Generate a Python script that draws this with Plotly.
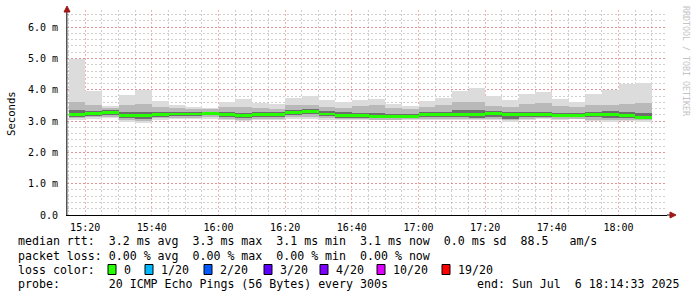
import plotly.graph_objects as go

# ---------------- data ----------------
DAY = "2025-07-06"
bin_start = ["15:15", "15:20", "15:25", "15:30", "15:35", "15:40", "15:45", "15:50", "15:55",
             "16:00", "16:05", "16:10", "16:15", "16:20", "16:25", "16:30", "16:35", "16:40",
             "16:45", "16:50", "16:55", "17:00", "17:05", "17:10", "17:15", "17:20", "17:25",
             "17:30", "17:35", "17:40", "17:45", "17:50", "17:55", "18:00", "18:05"]

# round trip times in ms (smoke percentiles per 5-minute bin)
rtt_max = [4.98, 3.95, 3.49, 3.84, 4.00, 3.65, 3.52, 3.45, 3.41, 3.61, 3.70, 3.59, 3.55, 3.73,
           3.81, 3.68, 3.60, 3.67, 3.70, 3.55, 3.48, 3.63, 3.73, 3.97, 4.05, 3.80, 3.67, 3.87,
           3.93, 3.71, 3.62, 3.87, 4.00, 4.17, 4.21]
rtt_p80 = [3.60, 3.50, 3.42, 3.52, 3.56, 3.45, 3.42, 3.40, 3.38, 3.44, 3.45, 3.42, 3.40, 3.50,
           3.52, 3.46, 3.42, 3.48, 3.50, 3.42, 3.40, 3.45, 3.52, 3.60, 3.62, 3.48, 3.45, 3.55,
           3.58, 3.48, 3.44, 3.50, 3.52, 3.55, 3.58]
rtt_p60 = [3.34, 3.33, 3.34, 3.30, 3.30, 3.30, 3.30, 3.29, 3.28, 3.28, 3.26, 3.28, 3.28, 3.36,
           3.40, 3.31, 3.28, 3.26, 3.27, 3.24, 3.22, 3.28, 3.30, 3.34, 3.35, 3.33, 3.28, 3.30,
           3.30, 3.27, 3.25, 3.30, 3.32, 3.30, 3.25]
rtt_median = [3.21, 3.24, 3.27, 3.19, 3.17, 3.22, 3.23, 3.23, 3.25, 3.20, 3.17, 3.20, 3.20, 3.27,
              3.31, 3.23, 3.19, 3.17, 3.15, 3.15, 3.15, 3.20, 3.20, 3.20, 3.20, 3.24, 3.22, 3.21,
              3.21, 3.18, 3.18, 3.20, 3.20, 3.17, 3.12]
rtt_p40 = [3.14, 3.17, 3.20, 3.10, 3.08, 3.14, 3.15, 3.16, 3.18, 3.12, 3.10, 3.13, 3.13, 3.19,
           3.22, 3.15, 3.11, 3.10, 3.09, 3.09, 3.10, 3.13, 3.14, 3.12, 3.11, 3.14, 3.08, 3.14,
           3.14, 3.12, 3.13, 3.12, 3.10, 3.10, 3.07]
rtt_p20 = [3.09, 3.12, 3.14, 3.02, 3.00, 3.09, 3.10, 3.10, 3.12, 3.06, 3.05, 3.08, 3.08, 3.13,
           3.14, 3.10, 3.06, 3.06, 3.05, 3.05, 3.06, 3.08, 3.08, 3.07, 3.06, 3.08, 3.02, 3.08,
           3.09, 3.08, 3.08, 3.05, 3.04, 3.04, 3.02]
rtt_min = [3.05, 3.08, 3.10, 2.96, 2.94, 3.05, 3.06, 3.06, 3.08, 3.02, 3.01, 3.04, 3.04, 3.07,
           3.06, 3.05, 3.03, 3.03, 3.02, 3.03, 3.04, 3.04, 3.04, 3.03, 3.02, 3.04, 2.98, 3.05,
           3.06, 3.05, 3.06, 2.99, 2.98, 2.99, 2.98]

y_tickvals = [0, 1, 2, 3, 4, 5, 6]
y_ticktext = ["0.0", "1.0 m", "2.0 m", "3.0 m", "4.0 m", "5.0 m", "6.0 m"]

legend_rtt = "median rtt:  3.2 ms avg  3.3 ms max  3.1 ms min  3.1 ms now  0.0 ms sd  88.5   am/s"
legend_loss = "packet loss: 0.00 % avg  0.00 % max  0.00 % min  0.00 % now"
loss_labels = ["0", "1/20", "2/20", "3/20", "4/20", "10/20", "19/20"]
loss_colors = ["#26ff00", "#00b8ff", "#0059ff", "#5e00ff", "#7e00ff", "#dd00ff", "#ff0000"]
legend_probe = "probe:       20 ICMP Echo Pings (56 Bytes) every 300s"
legend_end = "end: Sun Jul  6 18:14:33 2025"
watermark = "RRDTOOL / TOBI OETIKER"

# ---------------- layout geometry ----------------
W, H = 697, 297
L, R, T, B = 67, 30, 10, 82
PW, PH = W - L - R, H - T - B
MONO = "DejaVu Sans Mono"


def px(xp):
    return (xp - L) / PW


def py(yp):
    return (H - B - yp) / PH


def nb(s):
    return s.replace(" ", "\u00a0")


x = [f"{DAY} {t}:00" for t in bin_start]
fig = go.Figure()


def band(lo, hi, color):
    fig.add_trace(go.Bar(
        x=x, base=lo, y=[h - l for l, h in zip(lo, hi)],
        width=300000, offset=0,
        marker=dict(color=color, line=dict(width=0)),
        hoverinfo="skip", showlegend=False))


band(rtt_min, rtt_max, "#dcdcdc")
band(rtt_p20, rtt_p80, "#b9b9b9")
band(rtt_p40, rtt_p60, "#6e6e6e")
band([m - 0.045 for m in rtt_median], [m + 0.045 for m in rtt_median], "#26ff00")

grid_major = "rgba(240,80,80,0.45)"
grid_minor = "rgba(170,170,170,0.55)"
dash = "2px,2px"

fig.update_layout(
    width=W, height=H,
    margin=dict(l=L, r=R, t=T, b=B, pad=0),
    paper_bgcolor="white", plot_bgcolor="white",
    barmode="overlay", bargap=0, showlegend=False,
    xaxis=dict(
        type="date",
        range=[f"{DAY} 15:14:33", f"{DAY} 18:14:33"],
        tick0=f"{DAY} 15:20:00", dtick=1200000, tickformat="%H:%M",
        showgrid=True, gridcolor=grid_major, griddash=dash, gridwidth=1,
        minor=dict(tick0=f"{DAY} 15:20:00", dtick=300000, showgrid=True,
                   gridcolor=grid_minor, griddash=dash, gridwidth=1),
        showline=True, linecolor="#000000", linewidth=1,
        zeroline=False, ticks="", ticklabelstandoff=3,
        tickfont=dict(family=MONO, size=10, color="#000"),
        layer="above traces", fixedrange=True),
    yaxis=dict(
        range=[0, 6.55],
        tickvals=y_tickvals, ticktext=y_ticktext,
        showgrid=True, gridcolor=grid_major, griddash=dash, gridwidth=1,
        minor=dict(dtick=0.2, tick0=0, showgrid=True,
                   gridcolor=grid_minor, griddash=dash, gridwidth=1),
        showline=True, linecolor="#555555", linewidth=1,
        zeroline=False, ticks="", ticklabelstandoff=6,
        tickfont=dict(family=MONO, size=10, color="#000"),
        layer="above traces", fixedrange=True),
)

annotations = []
shapes = []

# y-axis title
annotations.append(dict(text="Seconds", xref="paper", yref="paper", x=px(11), y=py(114),
                        textangle=-90, showarrow=False, xanchor="center", yanchor="middle",
                        font=dict(family=MONO, size=10.6, color="#000")))
# watermark
annotations.append(dict(text=nb(watermark), xref="paper", yref="paper", x=px(686), y=py(4),
                        textangle=90, showarrow=False, xanchor="center", yanchor="top",
                        font=dict(family=MONO, size=8.3, color="#c4c4c4")))

FS = 11.6
TXT = dict(family=MONO, size=FS, color="#000")
for text, yy in [(legend_rtt, 241), (legend_loss, 255.5), ("loss color:", 269.5), (legend_probe, 284)]:
    annotations.append(dict(text=nb(text), xref="paper", yref="paper", x=px(16), y=py(yy),
                            showarrow=False, xanchor="left", yanchor="middle", font=TXT))
annotations.append(dict(text=nb(legend_end), xref="paper", yref="paper", x=px(681), y=py(284),
                        showarrow=False, xanchor="right", yanchor="middle", font=TXT))

box_x = [108, 145, 204, 264, 320, 377, 442]
for bx, lab, col in zip(box_x, loss_labels, loss_colors):
    shapes.append(dict(type="rect", xref="paper", yref="paper",
                       x0=px(bx), x1=px(bx + 8), y0=py(264.5), y1=py(274.5),
                       fillcolor=col, line=dict(color="#000", width=1)))
    annotations.append(dict(text=lab, xref="paper", yref="paper", x=px(bx + 14), y=py(269.5),
                            showarrow=False, xanchor="left", yanchor="middle", font=TXT))

# axis extensions and arrows
shapes.append(dict(type="line", xref="paper", yref="paper", x0=px(67), x1=px(67),
                   y0=py(215), y1=py(8), line=dict(color="#555555", width=1)))
shapes.append(dict(type="line", xref="paper", yref="paper", x0=px(667), x1=px(672),
                   y0=py(215), y1=py(215), line=dict(color="#000", width=1)))
shapes.append(dict(type="path", xref="paper", yref="paper",
                   path=f"M {px(64)},{py(12)} L {px(70)},{py(12)} L {px(67)},{py(6)} Z",
                   fillcolor="#a01818", line=dict(color="#a01818", width=1)))
shapes.append(dict(type="path", xref="paper", yref="paper",
                   path=f"M {px(670)},{py(212)} L {px(670)},{py(218)} L {px(676)},{py(215)} Z",
                   fillcolor="#a01818", line=dict(color="#a01818", width=1)))

fig.update_layout(annotations=annotations, shapes=shapes)
fig.write_html("out.html")
